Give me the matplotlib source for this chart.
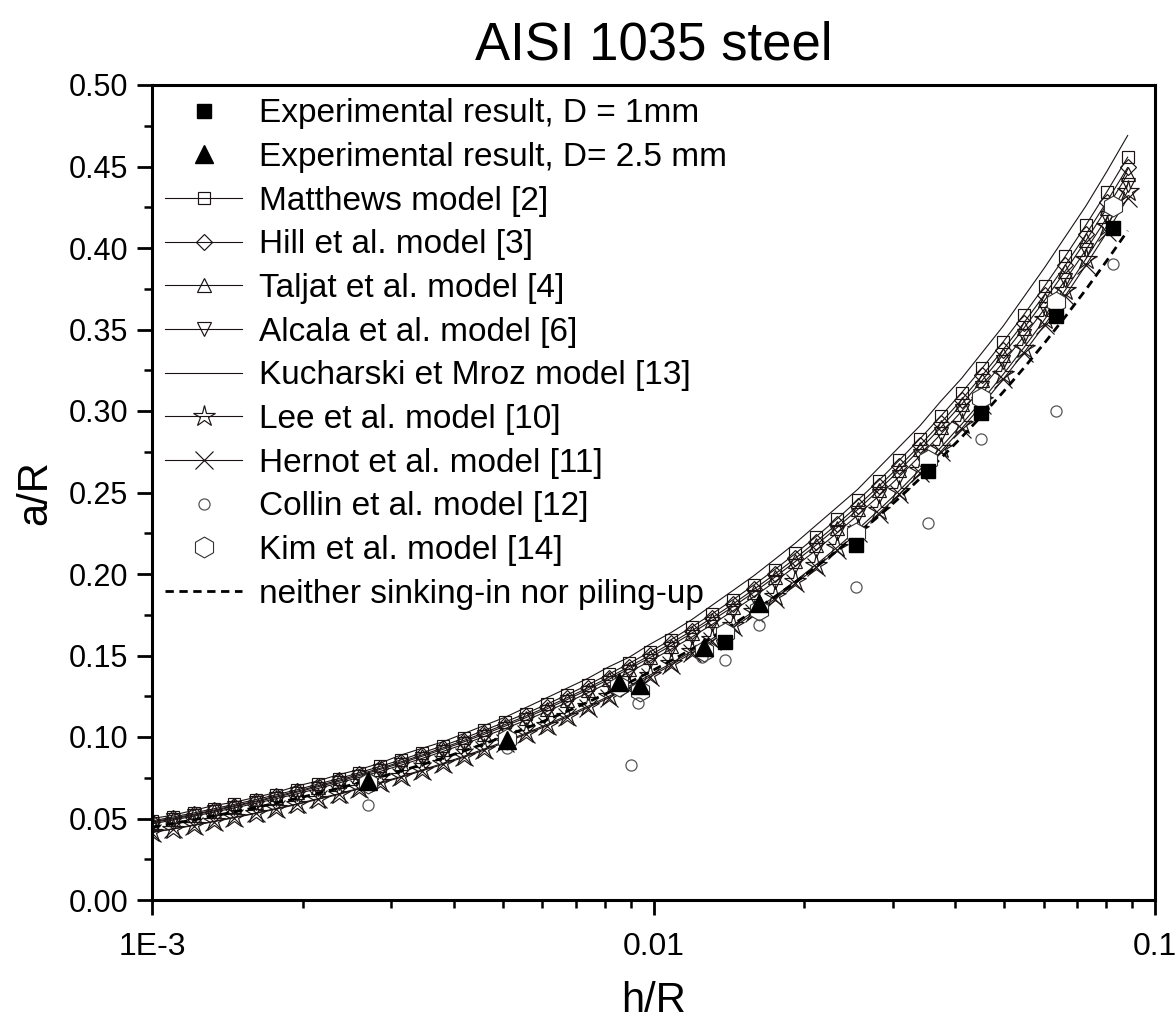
import matplotlib
matplotlib.use("Agg")
import matplotlib.pyplot as plt
from matplotlib.ticker import FixedLocator, FixedFormatter, NullFormatter, MultipleLocator, LogLocator

plt.rcParams['font.family'] = ['Liberation Sans', 'DejaVu Sans']

# ---------------- data ----------------
h_R = [0.00100, 0.00110, 0.00121, 0.00133, 0.00146, 0.00161, 0.00177, 0.00195,
       0.00214, 0.00236, 0.00259, 0.00285, 0.00314, 0.00345, 0.00380, 0.00418,
       0.00459, 0.00505, 0.00556, 0.00612, 0.00673, 0.00740, 0.00814, 0.00895,
       0.00985, 0.01083, 0.01192, 0.01311, 0.01442, 0.01586, 0.01745, 0.01919,
       0.02111, 0.02323, 0.02555, 0.02810, 0.03091, 0.03400, 0.03740, 0.04114,
       0.04526, 0.04978, 0.05476, 0.06024, 0.06626, 0.07289, 0.08018, 0.08820]

kucharski = [0.050, 0.052, 0.055, 0.058, 0.060, 0.063, 0.066, 0.070, 0.073, 0.077,
             0.080, 0.084, 0.089, 0.093, 0.097, 0.102, 0.107, 0.112, 0.118, 0.124,
             0.130, 0.136, 0.143, 0.149, 0.157, 0.164, 0.172, 0.181, 0.190, 0.199,
             0.209, 0.219, 0.230, 0.241, 0.252, 0.265, 0.278, 0.291, 0.306, 0.320,
             0.336, 0.352, 0.370, 0.388, 0.407, 0.426, 0.447, 0.469]

matthews = [0.0485, 0.0509, 0.0534, 0.0560, 0.0587, 0.0616, 0.0646, 0.0677, 0.0711, 0.0745,
            0.0781, 0.0820, 0.0860, 0.0902, 0.0946, 0.0992, 0.1040, 0.1091, 0.1144, 0.1200,
            0.1259, 0.1320, 0.1385, 0.1452, 0.1523, 0.1597, 0.1675, 0.1757, 0.1843, 0.1933,
            0.2027, 0.2126, 0.2230, 0.2338, 0.2453, 0.2572, 0.2698, 0.2830, 0.2968, 0.3112,
            0.3264, 0.3424, 0.3591, 0.3766, 0.3950, 0.4143, 0.4345, 0.4557]

hill = [0.0479, 0.0502, 0.0526, 0.0552, 0.0579, 0.0607, 0.0637, 0.0668, 0.0701, 0.0735,
        0.0771, 0.0808, 0.0848, 0.0889, 0.0933, 0.0978, 0.1026, 0.1076, 0.1128, 0.1183,
        0.1241, 0.1302, 0.1365, 0.1432, 0.1502, 0.1575, 0.1652, 0.1733, 0.1817, 0.1906,
        0.1999, 0.2097, 0.2199, 0.2306, 0.2419, 0.2537, 0.2660, 0.2790, 0.2927, 0.3069,
        0.3219, 0.3376, 0.3541, 0.3714, 0.3895, 0.4085, 0.4285, 0.4494]

taljat = [0.0474, 0.0497, 0.0521, 0.0547, 0.0574, 0.0602, 0.0631, 0.0662, 0.0694, 0.0728,
          0.0763, 0.0801, 0.0840, 0.0881, 0.0924, 0.0969, 0.1016, 0.1066, 0.1118, 0.1172,
          0.1230, 0.1290, 0.1353, 0.1419, 0.1488, 0.1560, 0.1637, 0.1717, 0.1800, 0.1888,
          0.1980, 0.2077, 0.2178, 0.2285, 0.2396, 0.2513, 0.2636, 0.2764, 0.2899, 0.3041,
          0.3189, 0.3345, 0.3508, 0.3679, 0.3859, 0.4047, 0.4245, 0.4452]

alcala = [0.0467, 0.0490, 0.0514, 0.0539, 0.0565, 0.0593, 0.0622, 0.0652, 0.0684, 0.0718,
          0.0753, 0.0789, 0.0828, 0.0868, 0.0911, 0.0955, 0.1002, 0.1051, 0.1102, 0.1156,
          0.1212, 0.1271, 0.1333, 0.1398, 0.1467, 0.1538, 0.1613, 0.1692, 0.1775, 0.1861,
          0.1952, 0.2048, 0.2147, 0.2252, 0.2362, 0.2477, 0.2598, 0.2725, 0.2858, 0.2998,
          0.3144, 0.3298, 0.3458, 0.3627, 0.3804, 0.3990, 0.4185, 0.4389]

lee = [0.0416, 0.0437, 0.0460, 0.0483, 0.0508, 0.0534, 0.0562, 0.0590, 0.0621, 0.0652,
       0.0686, 0.0721, 0.0758, 0.0797, 0.0838, 0.0881, 0.0926, 0.0973, 0.1023, 0.1076,
       0.1131, 0.1189, 0.1249, 0.1313, 0.1381, 0.1451, 0.1526, 0.1604, 0.1686, 0.1772,
       0.1863, 0.1958, 0.2058, 0.2163, 0.2274, 0.2390, 0.2512, 0.2641, 0.2776, 0.2918,
       0.3067, 0.3224, 0.3388, 0.3562, 0.3743, 0.3935, 0.4136, 0.4347]

hernot = [0.0414, 0.0435, 0.0457, 0.0481, 0.0505, 0.0531, 0.0558, 0.0587, 0.0617, 0.0648,
          0.0682, 0.0716, 0.0753, 0.0792, 0.0832, 0.0875, 0.0919, 0.0966, 0.1016, 0.1068,
          0.1122, 0.1180, 0.1240, 0.1303, 0.1370, 0.1440, 0.1514, 0.1591, 0.1672, 0.1758,
          0.1847, 0.1942, 0.2041, 0.2145, 0.2254, 0.2370, 0.2490, 0.2618, 0.2751, 0.2892,
          0.3039, 0.3194, 0.3357, 0.3528, 0.3708, 0.3897, 0.4096, 0.4305]

neither = [0.0447, 0.0469, 0.0492, 0.0516, 0.0541, 0.0567, 0.0595, 0.0624, 0.0654, 0.0686,
           0.0720, 0.0755, 0.0792, 0.0830, 0.0871, 0.0913, 0.0958, 0.1004, 0.1053, 0.1104,
           0.1158, 0.1214, 0.1273, 0.1335, 0.1400, 0.1468, 0.1539, 0.1614, 0.1692, 0.1774,
           0.1860, 0.1950, 0.2044, 0.2143, 0.2246, 0.2354, 0.2467, 0.2586, 0.2710, 0.2839,
           0.2974, 0.3116, 0.3264, 0.3418, 0.3579, 0.3747, 0.3923, 0.4106]

exp1_x = [0.0139, 0.0253, 0.0352, 0.0450, 0.0634, 0.0825]
exp1_y = [0.158, 0.218, 0.263, 0.299, 0.358, 0.412]

exp25_x = [0.0027, 0.0051, 0.00855, 0.0094, 0.0126, 0.0162]
exp25_y = [0.073, 0.098, 0.134, 0.132, 0.155, 0.182]

collin_x = [0.0027, 0.0051, 0.0090, 0.0093, 0.0125, 0.0139, 0.0162, 0.0253, 0.0352, 0.0450, 0.0634, 0.0825]
collin_y = [0.058, 0.093, 0.083, 0.121, 0.149, 0.147, 0.169, 0.192, 0.231, 0.283, 0.300, 0.390]

kim_x = [0.0027, 0.0051, 0.00855, 0.0094, 0.0126, 0.0139, 0.0162, 0.0253, 0.0352, 0.0450, 0.0634, 0.0825]
kim_y = [0.072, 0.099, 0.131, 0.128, 0.153, 0.164, 0.178, 0.225, 0.270, 0.308, 0.367, 0.426]

x_tick_values = [0.001, 0.01, 0.1]
x_tick_labels = ['1E-3', '0.01', '0.1']
y_tick_values = [0.00, 0.05, 0.10, 0.15, 0.20, 0.25, 0.30, 0.35, 0.40, 0.45, 0.50]
y_tick_labels = ['0.00', '0.05', '0.10', '0.15', '0.20', '0.25', '0.30', '0.35', '0.40', '0.45', '0.50']

# ---------------- figure ----------------
fig = plt.figure(figsize=(11.76, 10.26), dpi=100)
ax = fig.add_axes([152/1176, 1 - 900/1026, (1155-152)/1176, (900-85)/1026])

lc = '#1c1414'
mk = dict(fillstyle='none', markeredgewidth=0.85, color=lc, linewidth=0.8)

ax.plot(h_R, matthews, marker='s', markersize=8.5, label='Matthews model [2]', **mk)
ax.plot(h_R, hill, marker='D', markersize=8, label='Hill et al. model [3]', **mk)
ax.plot(h_R, taljat, marker='^', markersize=9.5, label='Taljat et al. model [4]', **mk)
ax.plot(h_R, alcala, marker='v', markersize=9.5, label='Alcala et al. model [6]', **mk)
ax.plot(h_R, kucharski, color=lc, linewidth=0.8, label='Kucharski et Mroz model [13]')
ax.plot(h_R, lee, marker='*', markersize=16, label='Lee et al. model [10]', **mk)
ax.plot(h_R, hernot, marker='x', markersize=13, label='Hernot et al. model [11]', **mk)
ax.plot(h_R, neither, color='black', linewidth=2.0, linestyle=(0, (3, 2)),
        label='neither sinking-in nor piling-up', zorder=3)

ax.plot(kim_x, kim_y, linestyle='none', marker='h', markersize=15, markerfacecolor='white',
        markeredgecolor='#333333', markeredgewidth=0.8, label='Kim et al. model [14]', zorder=4)
ax.plot(collin_x, collin_y, linestyle='none', marker='o', markersize=8, fillstyle='none',
        markeredgecolor='#555555', markeredgewidth=0.9, label='Collin et al. model [12]', zorder=4)
ax.plot(exp1_x, exp1_y, linestyle='none', marker='s', markersize=10, color='black',
        label='Experimental result, D = 1mm', zorder=5)
ax.plot(exp25_x, exp25_y, linestyle='none', marker='^', markersize=12.5, color='black',
        label='Experimental result, D= 2.5 mm', zorder=5)

ax.set_xscale('log')
ax.set_xlim(0.001, 0.1)
ax.set_ylim(0.0, 0.5)

ax.xaxis.set_major_locator(FixedLocator(x_tick_values))
ax.xaxis.set_major_formatter(FixedFormatter(x_tick_labels))
ax.xaxis.set_minor_locator(LogLocator(base=10, subs=[2, 3, 4, 5, 6, 7, 8, 9], numticks=20))
ax.xaxis.set_minor_formatter(NullFormatter())
ax.yaxis.set_major_locator(FixedLocator(y_tick_values))
ax.yaxis.set_major_formatter(FixedFormatter(y_tick_labels))
ax.yaxis.set_minor_locator(MultipleLocator(0.025))

ax.tick_params(which='major', direction='out', length=11, width=2, top=False, right=False)
ax.tick_params(which='minor', direction='out', length=6, width=1.8, top=False, right=False)
ax.tick_params(axis='y', which='major', labelsize=22, pad=6)
ax.tick_params(axis='x', which='major', labelsize=23, pad=12)
for sp in ax.spines.values():
    sp.set_linewidth(2.2)

ax.set_xlabel('h/R', fontsize=30, labelpad=14)
ax.set_ylabel('a/R', fontsize=30, labelpad=10)
ax.set_title('AISI 1035 steel', fontsize=38, pad=18)

handles, labels = ax.get_legend_handles_labels()
order = ['Experimental result, D = 1mm', 'Experimental result, D= 2.5 mm', 'Matthews model [2]',
         'Hill et al. model [3]', 'Taljat et al. model [4]', 'Alcala et al. model [6]',
         'Kucharski et Mroz model [13]', 'Lee et al. model [10]', 'Hernot et al. model [11]',
         'Collin et al. model [12]', 'Kim et al. model [14]', 'neither sinking-in nor piling-up']
hmap = dict(zip(labels, handles))
ax.legend([hmap[k] for k in order], order, loc='upper left', frameon=False, fontsize=24,
          handlelength=2.3, handletextpad=0.5, labelspacing=0.38, borderaxespad=0.1,
          borderpad=0.3, numpoints=1)

fig.savefig('out.png', dpi=100)
